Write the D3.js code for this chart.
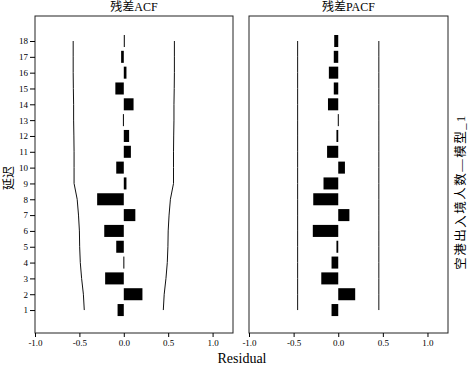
<!DOCTYPE html>
<html>
<head>
<meta charset="utf-8">
<script src="https://cdn.jsdelivr.net/npm/d3@7"></script>
<style>
  body { margin: 0; background: #fff; }
  svg text { font-family: "Liberation Serif", "Times New Roman", "Noto Sans CJK SC", serif; fill: #000; }
</style>
</head>
<body>
<div id="chart"></div>
<script>
// lags and residual correlations
const lags = d3.range(1, 19);
const acfValues = [-0.07, 0.21, -0.21, -0.005, -0.085, -0.22, 0.13, -0.30, 0.03,
  -0.085, 0.08, 0.06, -0.01, 0.11, -0.095, 0.03, -0.03, 0.005];
const acfLimits = [0.445, 0.455, 0.475, 0.49, 0.497, 0.50, 0.51, 0.525, 0.56,
  0.56, 0.56, 0.562, 0.565, 0.565, 0.568, 0.57, 0.57, 0.57];
const pacfValues = [-0.075, 0.19, -0.19, -0.075, -0.02, -0.285, 0.125, -0.28, -0.165,
  0.075, -0.125, -0.02, -0.005, -0.115, -0.05, -0.105, -0.05, -0.045];
const pacfLimit = 0.455;
const xTicks = [-1.0, -0.5, 0.0, 0.5, 1.0];
const xTickLabels = ["-1.0", "-0.5", "0.0", "0.5", "1.0"];

const width = 471, height = 366;
const svg = d3.select("#chart").append("svg")
  .attr("width", width)
  .attr("height", height);

const plotTop = 16, plotBottom = 333;
const y = d3.scaleLinear().domain([-0.45, 19.58]).range([plotBottom, plotTop]);
const barH = (y(0) - y(1)) * 0.76;

const panels = [
  { title: "残差ACF", left: 35, right: 233, values: acfValues,
    limits: acfLimits, yAxis: true },
  { title: "残差PACF", left: 249, right: 448, values: pacfValues,
    limits: lags.map(() => pacfLimit), yAxis: false }
];

panels.forEach(p => {
  const x = d3.scaleLinear().domain([-1, 1.23]).range([p.left, p.right]);
  const g = svg.append("g");

  // frame
  g.append("rect")
    .attr("x", p.left).attr("y", plotTop)
    .attr("width", p.right - p.left).attr("height", plotBottom - plotTop)
    .attr("fill", "none").attr("stroke", "#222").attr("stroke-width", 1);

  // bars
  g.selectAll("rect.bar")
    .data(lags)
    .join("rect")
    .attr("class", "bar")
    .attr("x", (d, i) => Math.min(x(0), x(p.values[i])))
    .attr("width", (d, i) => Math.max(1, Math.abs(x(p.values[i]) - x(0))))
    .attr("y", d => y(d) - barH / 2)
    .attr("height", barH)
    .attr("fill", "#000");

  // confidence limits
  const line = d3.line().x(d => x(d[0])).y(d => y(d[1]));
  g.append("path")
    .datum(lags.map((d, i) => [p.limits[i], d]))
    .attr("d", line).attr("fill", "none").attr("stroke", "#111").attr("stroke-width", 1);
  g.append("path")
    .datum(lags.map((d, i) => [-p.limits[i], d]))
    .attr("d", line).attr("fill", "none").attr("stroke", "#111").attr("stroke-width", 1);

  // x axis
  const xAxis = g.append("g")
    .attr("transform", `translate(0,${plotBottom})`)
    .call(d3.axisBottom(x).tickValues(xTicks)
      .tickFormat((d, i) => xTickLabels[i]).tickSizeOuter(0).tickSize(4).tickPadding(3));
  xAxis.select(".domain").remove();
  xAxis.selectAll("text").attr("font-size", 9).attr("font-family", "Liberation Serif");

  if (p.yAxis) {
    const yAxis = g.append("g")
      .attr("transform", `translate(${p.left},0)`)
      .call(d3.axisLeft(y).tickValues(lags).tickFormat(d3.format("d"))
        .tickSize(5).tickPadding(2));
    yAxis.select(".domain").remove();
    yAxis.selectAll("text").attr("font-size", 9).attr("font-family", "Liberation Serif");
  }

  g.append("text")
    .attr("x", (p.left + p.right) / 2)
    .attr("y", 11)
    .attr("text-anchor", "middle")
    .attr("font-size", 12)
    .text(p.title);
});

svg.append("text")
  .attr("x", 242).attr("y", 363)
  .attr("text-anchor", "middle")
  .attr("font-size", 14)
  .text("Residual");

svg.append("text")
  .attr("transform", "translate(13,178) rotate(-90)")
  .attr("text-anchor", "middle")
  .attr("font-size", 12)
  .text("延迟");

svg.append("text")
  .attr("transform", "translate(465,192) rotate(-90)")
  .attr("text-anchor", "middle")
  .attr("font-size", 12.5)
  .attr("letter-spacing", 1.5)
  .text("空港出入境人数—模型_1");
</script>
</body>
</html>
